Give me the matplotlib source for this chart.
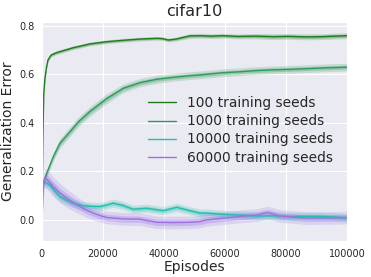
import numpy as np
import seaborn as sns
import matplotlib
matplotlib.use("Agg")
import matplotlib.pyplot as plt

sns.set_style("darkgrid")

# values (episodes, generalization error, band half width)
ep_100 = [0, 300, 600, 1000, 1500, 2000, 3000, 4800, 7500, 10200, 15700, 21200,
          26700, 32100, 37600, 39500, 41400, 44000, 46300, 48500, 51800, 55500,
          59300, 64000, 70000, 75700, 81000, 86500, 92100, 96000, 100000]
err_100 = [0.0, 0.33, 0.52, 0.585, 0.63, 0.66, 0.68, 0.69, 0.70, 0.71, 0.726, 0.735,
           0.741, 0.746, 0.749, 0.748, 0.742, 0.746, 0.753, 0.759, 0.760, 0.758,
           0.760, 0.757, 0.758, 0.756, 0.757, 0.755, 0.756, 0.758, 0.760]
sd_100 = [0.0, 0.02, 0.02, 0.012, 0.01, 0.008, 0.008, 0.008, 0.008, 0.008, 0.008, 0.008,
          0.008, 0.008, 0.008, 0.008, 0.008, 0.008, 0.009, 0.01, 0.01, 0.01,
          0.01, 0.01, 0.011, 0.012, 0.012, 0.012, 0.012, 0.012, 0.012]

ep_1000 = [0, 400, 1500, 3700, 5900, 9200, 12000, 15700, 21200, 26700, 32100,
           37600, 43000, 48500, 51800, 59300, 64800, 70400, 75800, 81300, 87000,
           92500, 100000]
err_1000 = [0.14, 0.15, 0.19, 0.26, 0.316, 0.364, 0.405, 0.447, 0.50, 0.543, 0.566,
            0.58, 0.588, 0.595, 0.598, 0.607, 0.611, 0.616, 0.619, 0.621, 0.624,
            0.627, 0.63]
sd_1000 = [0.01, 0.012, 0.015, 0.018, 0.02, 0.02, 0.02, 0.02, 0.02, 0.018, 0.017,
           0.017, 0.016, 0.016, 0.016, 0.016, 0.016, 0.016, 0.016, 0.016, 0.016,
           0.016, 0.016]

ep_10000 = [0, 1000, 2600, 4200, 5900, 8000, 10300, 13500, 16500, 19000, 21300,
            23400, 26500, 29900, 34300, 37000, 39800, 42000, 44200, 48500, 51800,
            54000, 59300, 64800, 70400, 75800, 81300, 86700, 92100, 96000, 100000]
err_10000 = [0.158, 0.155, 0.144, 0.12, 0.096, 0.082, 0.069, 0.058, 0.056, 0.055, 0.062,
             0.069, 0.06, 0.044, 0.048, 0.043, 0.038, 0.045, 0.052, 0.038, 0.028,
             0.028, 0.023, 0.02, 0.016, 0.017, 0.014, 0.015, 0.014, 0.012, 0.008]
sd_10000 = [0.02, 0.022, 0.024, 0.024, 0.022, 0.02, 0.018, 0.017, 0.017, 0.017, 0.017,
            0.017, 0.017, 0.017, 0.017, 0.017, 0.017, 0.017, 0.017, 0.017, 0.017,
            0.017, 0.017, 0.017, 0.017, 0.017, 0.017, 0.017, 0.017, 0.017, 0.017]

ep_60000 = [0, 500, 1000, 2200, 3700, 5800, 8100, 10300, 12500, 14600, 16800, 19000,
            21200, 26700, 32100, 37600, 43000, 48500, 51800, 54000, 59300, 64900,
            70400, 73700, 74800, 78000, 82000, 86800, 92100, 96000, 100000]
err_60000 = [0.0, 0.14, 0.175, 0.16, 0.137, 0.112, 0.09, 0.072, 0.055, 0.04, 0.028, 0.018,
             0.01, 0.004, 0.003, -0.01, -0.011, -0.01, -0.007, 0.0, 0.007, 0.014,
             0.02, 0.03, 0.028, 0.016, 0.012, 0.007, 0.008, 0.008, 0.01]
sd_60000 = [0.0, 0.035, 0.038, 0.04, 0.04, 0.04, 0.038, 0.035, 0.032, 0.03, 0.028, 0.027,
            0.026, 0.026, 0.026, 0.026, 0.026, 0.026, 0.026, 0.026, 0.026, 0.026,
            0.026, 0.026, 0.026, 0.026, 0.026, 0.026, 0.026, 0.026, 0.026]

series = [
    ("100 training seeds", ep_100, err_100, sd_100, "#1f7d1f"),
    ("1000 training seeds", ep_1000, err_1000, sd_1000, "#319a5c"),
    ("10000 training seeds", ep_10000, err_10000, sd_10000, "#22bfad"),
    ("60000 training seeds", ep_60000, err_60000, sd_60000, "#9a72e2"),
]

fig = plt.figure(figsize=(3.71, 2.77), dpi=100)
ax = fig.add_axes([0.113, 0.130, 0.822, 0.792])

for label, x, y, sd, c in series:
    x = np.array(x)
    y = np.array(y)
    sd = np.array(sd)
    # two shaded levels like the original
    ax.fill_between(x, y - sd, y + sd, color=c, alpha=0.2, lw=0)
    ax.fill_between(x, y - sd / 2, y + sd / 2, color=c, alpha=0.3, lw=0)
    ax.plot(x, y, color=c, lw=1.0, label=label)

ax.set_xlim(0, 100000)
ax.set_ylim(-0.087, 0.818)
ax.set_xticks([0, 20000, 40000, 60000, 80000, 100000])
ax.set_yticks([0.0, 0.2, 0.4, 0.6, 0.8])
ax.tick_params(labelsize=7, pad=2)
ax.set_xlabel("Episodes", fontsize=10, labelpad=1)
ax.set_ylabel("Generalization Error", fontsize=10, labelpad=3)
ax.set_title("cifar10", fontsize=11.6, pad=4)

ax.legend(loc="center left", bbox_to_anchor=(0.33, 0.504), borderaxespad=0,
          fontsize=9.9, labelspacing=0.3, frameon=False)

fig.savefig("out.png", dpi=100)
